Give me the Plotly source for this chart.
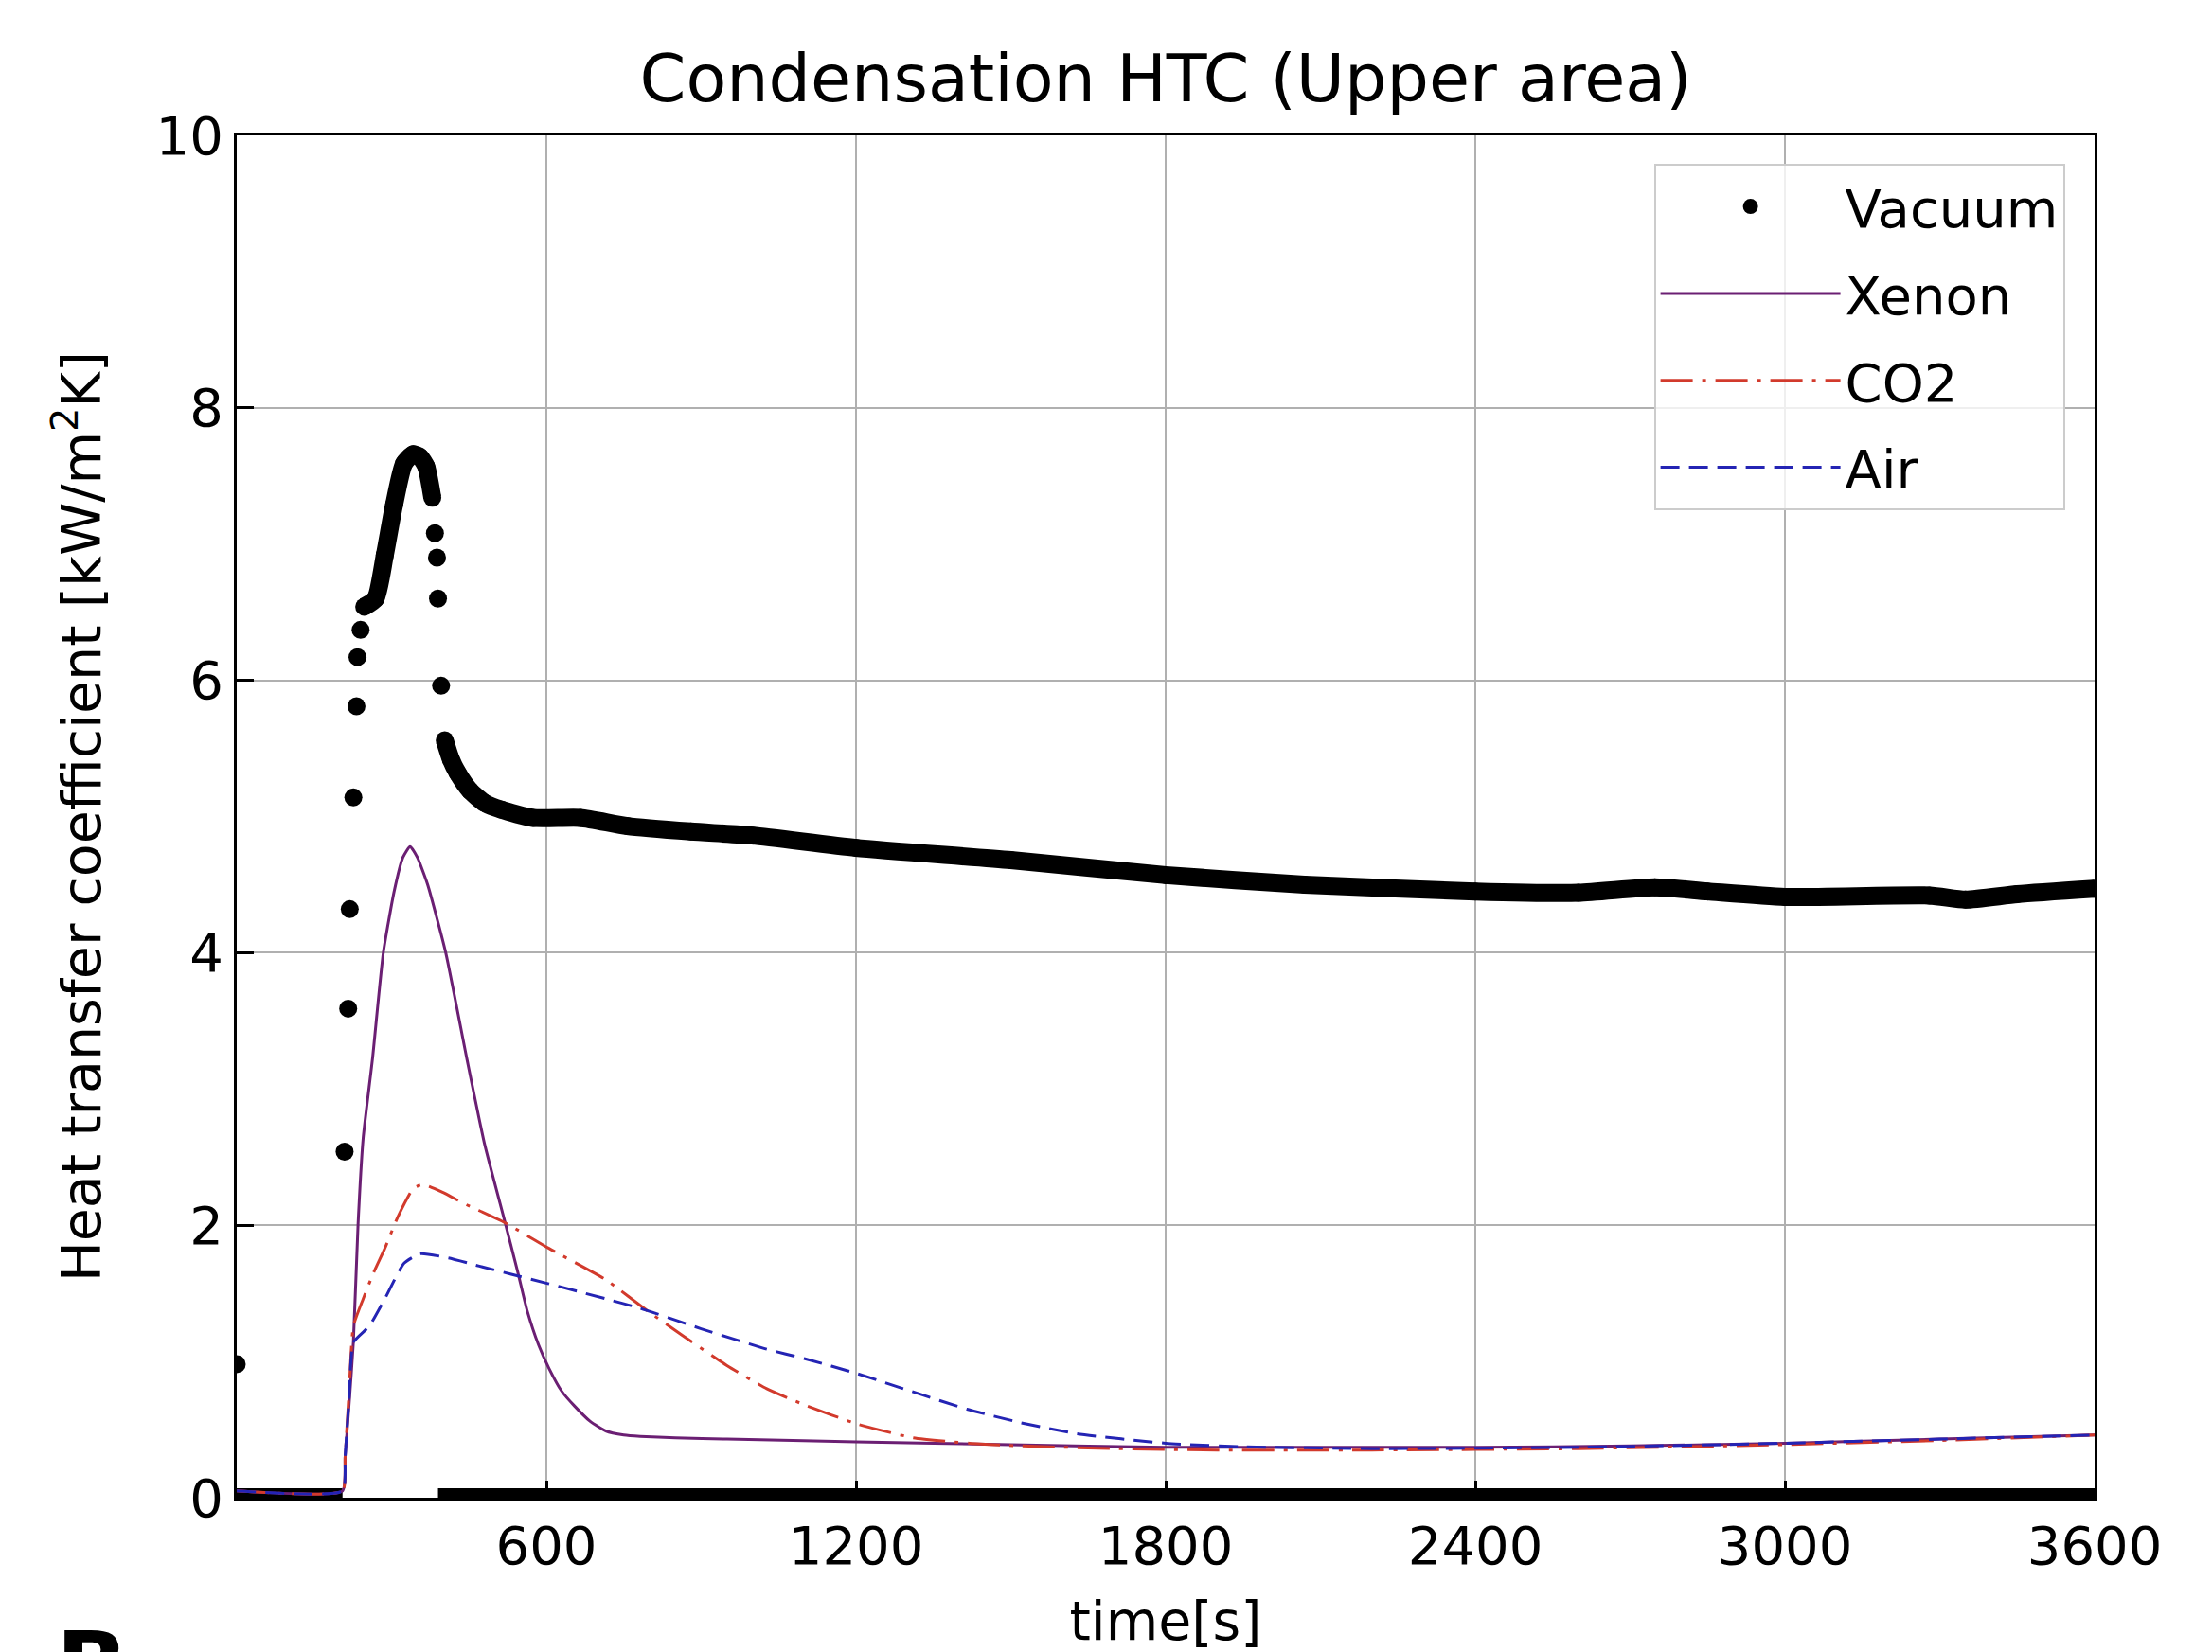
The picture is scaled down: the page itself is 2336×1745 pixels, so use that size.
import plotly.graph_objects as go

# Vacuum (measured points, kW/m2K)
vac_t = [0, 209, 216, 219, 226, 232, 234, 240, 247, 269, 287, 305, 324, 342, 355, 367, 379,
         384, 388, 390, 396, 403, 415, 428, 452, 480, 513, 574, 666, 757, 880, 1000, 1200,
         1500, 1800, 2069, 2400, 2600, 2748, 2850, 3000, 3280, 3350, 3450, 3600]
vac_v = [0.98, 2.54, 3.59, 4.32, 5.14, 5.81, 6.17, 6.37, 6.54, 6.60, 6.92, 7.29, 7.59, 7.66, 7.64, 7.57, 7.34,
         7.08, 6.90, 6.60, 5.96, 5.56, 5.42, 5.32, 5.19, 5.10, 5.05, 4.99, 4.99, 4.93, 4.89, 4.86, 4.77,
         4.68, 4.57, 4.50, 4.45, 4.44, 4.48, 4.45, 4.41, 4.42, 4.39, 4.43, 4.47]
# lower vacuum branch sitting on zero
vac_low_t = [0, 205, None, 390, 3600]
vac_low_v = [0, 0, None, 0, 0]

xenon_t = [0, 205, 210, 218, 226, 235, 245, 263, 284, 305, 322, 336, 350, 370, 405, 446, 480, 520,
           545, 563, 585, 605, 630, 654, 685, 715, 750, 782, 850, 950, 1200, 1500, 1800, 2100,
           2400, 2700, 3000, 3300, 3600]
xenon_v = [0.05, 0.05, 0.3, 0.7, 1.14, 2.0, 2.64, 3.22, 4.0, 4.45, 4.7, 4.78, 4.7, 4.5, 4.0, 3.22, 2.6, 2.02,
           1.65, 1.37, 1.12, 0.95, 0.78, 0.675, 0.56, 0.49, 0.46, 0.45, 0.44, 0.43, 0.41, 0.39, 0.37, 0.37,
           0.37, 0.38, 0.40, 0.43, 0.46]

co2_t = [0, 205, 210, 218, 226, 245, 265, 287, 312, 342, 361, 400, 440, 519, 605, 715, 800, 864, 950,
         1027, 1101, 1203, 1311, 1420, 1522, 1700, 1900, 2200, 2600, 3000, 3300, 3600]
co2_v = [0.05, 0.05, 0.3, 0.8, 1.26, 1.46, 1.65, 1.83, 2.06, 2.27, 2.30, 2.24, 2.16, 2.02, 1.83, 1.60, 1.36, 1.19, 0.97,
         0.80, 0.68, 0.54, 0.44, 0.40, 0.38, 0.36, 0.35, 0.35, 0.36, 0.39, 0.42, 0.46]

air_t = [0, 205, 210, 218, 226, 257, 287, 324, 355, 410, 470, 532, 605, 715, 782, 900, 1027, 1101, 1203,
         1300, 1415, 1520, 1627, 1800, 1942, 2200, 2600, 3000, 3300, 3600]
air_v = [0.05, 0.05, 0.3, 0.75, 1.14, 1.26, 1.46, 1.72, 1.79, 1.76, 1.70, 1.64, 1.57, 1.46, 1.39, 1.24, 1.09, 1.02, 0.91,
         0.79, 0.65, 0.55, 0.47, 0.40, 0.375, 0.36, 0.37, 0.40, 0.43, 0.46]

x_ticks = [600, 1200, 1800, 2400, 3000, 3600]
y_ticks = [0, 2, 4, 6, 8, 10]

FONT = "DejaVu Sans"

fig = go.Figure()

# the dense parts of the vacuum record show up as a solid band of dots
band_a = [(t, v) for t, v in zip(vac_t, vac_v) if 247 <= t <= 379]
band_b = [(t, v) for t, v in zip(vac_t, vac_v) if t >= 403]
for seg in (band_a, band_b):
    fig.add_trace(go.Scatter(
        x=[p[0] for p in seg], y=[p[1] for p in seg], mode="lines",
        line=dict(color="black", width=19, shape="spline", smoothing=0.6),
        showlegend=False, hoverinfo="skip"))
fig.add_trace(go.Scatter(
    x=vac_low_t, y=vac_low_v, mode="lines",
    line=dict(color="black", width=20), showlegend=False, hoverinfo="skip"))

fig.add_trace(go.Scatter(
    x=vac_t, y=vac_v, mode="markers", name="Vacuum", legendgroup="1",
    marker=dict(color="black", size=19)))

fig.add_trace(go.Scatter(
    x=xenon_t, y=xenon_v, mode="lines", name="Xenon", legendgroup="2",
    line=dict(color="#6b1f73", width=3, shape="spline", smoothing=0.5)))
fig.add_trace(go.Scatter(
    x=co2_t, y=co2_v, mode="lines", name="CO2", legendgroup="3",
    line=dict(color="#d23a2c", width=3, dash="34px,10px,4px,10px", shape="spline", smoothing=0.5)))
fig.add_trace(go.Scatter(
    x=air_t, y=air_v, mode="lines", name="Air", legendgroup="4",
    line=dict(color="#2424b4", width=3, dash="20px,10px", shape="spline", smoothing=0.5)))

axis_common = dict(
    showline=True, linecolor="black", linewidth=3, mirror=True,
    ticks="inside", ticklen=18, tickwidth=2.5, tickcolor="black",
    showgrid=True, gridcolor="#b0b0b0", gridwidth=2,
    zeroline=False, tickfont=dict(family=FONT, size=56, color="black"),
)

fig.update_xaxes(
    range=[0, 3600], tickvals=x_ticks,
    title=dict(text="time[s]", font=dict(family=FONT, size=57, color="black"), standoff=28),
    **axis_common)
fig.update_yaxes(
    range=[0, 10], tickvals=y_ticks,
    title=dict(text="Heat transfer coefficient [kW/m<sup>2</sup>K]",
               font=dict(family=FONT, size=57, color="black"), standoff=40),
    **axis_common)

fig.update_layout(
    width=2336, height=1745, autosize=False,
    margin=dict(l=250, r=124, t=143, b=161),
    plot_bgcolor="white", paper_bgcolor="white",
    font=dict(family=FONT, color="black"),
    title=dict(text="Condensation HTC (Upper area)", x=0.5, xref="paper",
               y=1 - 82 / 1745, yref="container", yanchor="middle",
               font=dict(family=FONT, size=70, color="black")),
    legend=dict(x=0.984, y=0.979, xanchor="right", yanchor="top",
                bgcolor="rgba(255,255,255,0.8)", bordercolor="#cccccc", borderwidth=2,
                font=dict(family=FONT, size=56, color="black"),
                tracegroupgap=16, itemwidth=190),
    annotations=[dict(text="<b>B</b>", xref="paper", yref="paper", x=-0.078, y=-0.082,
                      xanchor="center", yanchor="top", showarrow=False,
                      font=dict(family=FONT, size=100, color="black"))],
)

fig.write_html("out.html", config={"displayModeBar": False},
               post_script="document.body.style.margin='0';")
